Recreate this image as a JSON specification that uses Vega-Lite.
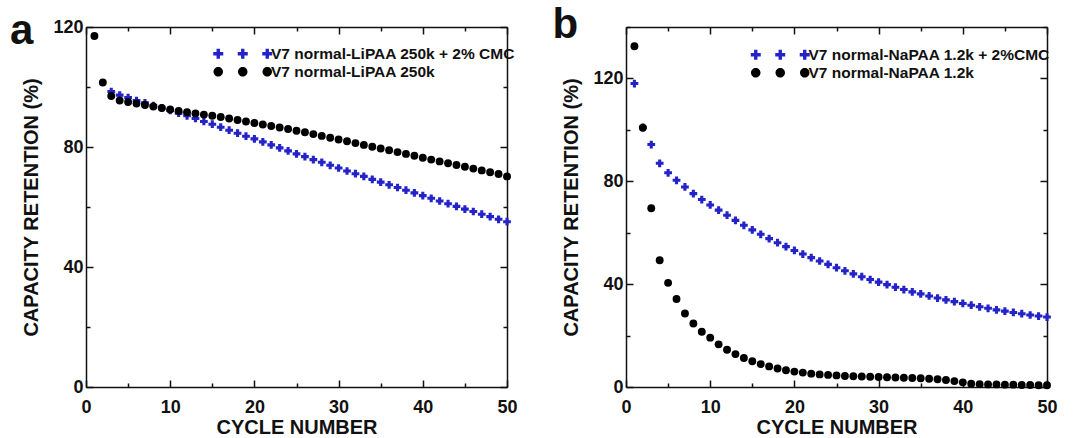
{
  "$schema": "https://vega.github.io/schema/vega-lite/v6.json",
  "autosize": {"type": "none"},
  "padding": {"left": 86, "top": 27, "right": 989, "bottom": 411},
  "bounds": "flush",
  "spacing": 119,
  "background": "white",
  "resolve": {"legend": {"color": "independent", "fill": "independent"}, "scale": {"color": "independent", "fill": "independent"}},
  "config": {
    "view": {"stroke": null},
    "font": "Liberation Sans",
    "axis": {
      "grid": false,
      "domainColor": "#111111",
      "domainWidth": 1.5,
      "tickColor": "#111111",
      "tickWidth": 1.5,
      "labelFont": "Liberation Sans",
      "labelFontSize": 18,
      "labelFontWeight": "bold",
      "labelColor": "#111111",
      "labelFlush": false,
      "labelOverlap": false,
      "titleFont": "Liberation Sans",
      "titleFontSize": 20,
      "titleFontWeight": "bold",
      "titleColor": "#111111"
    },
    "legend": {
      "labelFont": "Liberation Sans",
      "labelFontSize": 15.5,
      "labelFontWeight": "bold",
      "labelColor": "#111111",
      "labelLimit": 0,
      "symbolSize": 100,
      "symbolStrokeWidth": 0,
      "labelOffset": -4,
      "padding": 0,
      "orient": "none"
    }
  },
  "datasets": {
    "a": [
      {"cycle": 1, "ret": 117, "series": "V7 normal-LiPAA 250k"},
      {"cycle": 2, "ret": 101.5, "series": "V7 normal-LiPAA 250k"},
      {"cycle": 3, "ret": 97, "series": "V7 normal-LiPAA 250k"},
      {"cycle": 4, "ret": 95.5, "series": "V7 normal-LiPAA 250k"},
      {"cycle": 5, "ret": 95, "series": "V7 normal-LiPAA 250k"},
      {"cycle": 6, "ret": 94.5, "series": "V7 normal-LiPAA 250k"},
      {"cycle": 7, "ret": 94, "series": "V7 normal-LiPAA 250k"},
      {"cycle": 8, "ret": 93.5, "series": "V7 normal-LiPAA 250k"},
      {"cycle": 9, "ret": 93, "series": "V7 normal-LiPAA 250k"},
      {"cycle": 10, "ret": 92.5, "series": "V7 normal-LiPAA 250k"},
      {"cycle": 11, "ret": 92, "series": "V7 normal-LiPAA 250k"},
      {"cycle": 12, "ret": 91.6, "series": "V7 normal-LiPAA 250k"},
      {"cycle": 13, "ret": 91.2, "series": "V7 normal-LiPAA 250k"},
      {"cycle": 14, "ret": 90.8, "series": "V7 normal-LiPAA 250k"},
      {"cycle": 15, "ret": 90.4, "series": "V7 normal-LiPAA 250k"},
      {"cycle": 16, "ret": 90, "series": "V7 normal-LiPAA 250k"},
      {"cycle": 17, "ret": 89.5, "series": "V7 normal-LiPAA 250k"},
      {"cycle": 18, "ret": 89, "series": "V7 normal-LiPAA 250k"},
      {"cycle": 19, "ret": 88.5, "series": "V7 normal-LiPAA 250k"},
      {"cycle": 20, "ret": 88, "series": "V7 normal-LiPAA 250k"},
      {"cycle": 21, "ret": 87.5, "series": "V7 normal-LiPAA 250k"},
      {"cycle": 22, "ret": 87, "series": "V7 normal-LiPAA 250k"},
      {"cycle": 23, "ret": 86.5, "series": "V7 normal-LiPAA 250k"},
      {"cycle": 24, "ret": 86, "series": "V7 normal-LiPAA 250k"},
      {"cycle": 25, "ret": 85.4, "series": "V7 normal-LiPAA 250k"},
      {"cycle": 26, "ret": 84.9, "series": "V7 normal-LiPAA 250k"},
      {"cycle": 27, "ret": 84.3, "series": "V7 normal-LiPAA 250k"},
      {"cycle": 28, "ret": 83.7, "series": "V7 normal-LiPAA 250k"},
      {"cycle": 29, "ret": 83.1, "series": "V7 normal-LiPAA 250k"},
      {"cycle": 30, "ret": 82.5, "series": "V7 normal-LiPAA 250k"},
      {"cycle": 31, "ret": 81.9, "series": "V7 normal-LiPAA 250k"},
      {"cycle": 32, "ret": 81.3, "series": "V7 normal-LiPAA 250k"},
      {"cycle": 33, "ret": 80.7, "series": "V7 normal-LiPAA 250k"},
      {"cycle": 34, "ret": 80.1, "series": "V7 normal-LiPAA 250k"},
      {"cycle": 35, "ret": 79.5, "series": "V7 normal-LiPAA 250k"},
      {"cycle": 36, "ret": 78.9, "series": "V7 normal-LiPAA 250k"},
      {"cycle": 37, "ret": 78.3, "series": "V7 normal-LiPAA 250k"},
      {"cycle": 38, "ret": 77.7, "series": "V7 normal-LiPAA 250k"},
      {"cycle": 39, "ret": 77.1, "series": "V7 normal-LiPAA 250k"},
      {"cycle": 40, "ret": 76.4, "series": "V7 normal-LiPAA 250k"},
      {"cycle": 41, "ret": 75.8, "series": "V7 normal-LiPAA 250k"},
      {"cycle": 42, "ret": 75.2, "series": "V7 normal-LiPAA 250k"},
      {"cycle": 43, "ret": 74.6, "series": "V7 normal-LiPAA 250k"},
      {"cycle": 44, "ret": 74, "series": "V7 normal-LiPAA 250k"},
      {"cycle": 45, "ret": 73.4, "series": "V7 normal-LiPAA 250k"},
      {"cycle": 46, "ret": 72.8, "series": "V7 normal-LiPAA 250k"},
      {"cycle": 47, "ret": 72.2, "series": "V7 normal-LiPAA 250k"},
      {"cycle": 48, "ret": 71.6, "series": "V7 normal-LiPAA 250k"},
      {"cycle": 49, "ret": 71, "series": "V7 normal-LiPAA 250k"},
      {"cycle": 50, "ret": 70.2, "series": "V7 normal-LiPAA 250k"},
      {"cycle": 3, "ret": 98.5, "series": "V7 normal-LiPAA 250k + 2% CMC"},
      {"cycle": 4, "ret": 97.3, "series": "V7 normal-LiPAA 250k + 2% CMC"},
      {"cycle": 5, "ret": 96.5, "series": "V7 normal-LiPAA 250k + 2% CMC"},
      {"cycle": 6, "ret": 95.5, "series": "V7 normal-LiPAA 250k + 2% CMC"},
      {"cycle": 7, "ret": 94.7, "series": "V7 normal-LiPAA 250k + 2% CMC"},
      {"cycle": 8, "ret": 93.8, "series": "V7 normal-LiPAA 250k + 2% CMC"},
      {"cycle": 9, "ret": 93, "series": "V7 normal-LiPAA 250k + 2% CMC"},
      {"cycle": 10, "ret": 92.2, "series": "V7 normal-LiPAA 250k + 2% CMC"},
      {"cycle": 11, "ret": 91.3, "series": "V7 normal-LiPAA 250k + 2% CMC"},
      {"cycle": 12, "ret": 90.4, "series": "V7 normal-LiPAA 250k + 2% CMC"},
      {"cycle": 13, "ret": 89.5, "series": "V7 normal-LiPAA 250k + 2% CMC"},
      {"cycle": 14, "ret": 88.5, "series": "V7 normal-LiPAA 250k + 2% CMC"},
      {"cycle": 15, "ret": 87.6, "series": "V7 normal-LiPAA 250k + 2% CMC"},
      {"cycle": 16, "ret": 86.6, "series": "V7 normal-LiPAA 250k + 2% CMC"},
      {"cycle": 17, "ret": 85.6, "series": "V7 normal-LiPAA 250k + 2% CMC"},
      {"cycle": 18, "ret": 84.6, "series": "V7 normal-LiPAA 250k + 2% CMC"},
      {"cycle": 19, "ret": 83.6, "series": "V7 normal-LiPAA 250k + 2% CMC"},
      {"cycle": 20, "ret": 82.7, "series": "V7 normal-LiPAA 250k + 2% CMC"},
      {"cycle": 21, "ret": 81.7, "series": "V7 normal-LiPAA 250k + 2% CMC"},
      {"cycle": 22, "ret": 80.7, "series": "V7 normal-LiPAA 250k + 2% CMC"},
      {"cycle": 23, "ret": 79.7, "series": "V7 normal-LiPAA 250k + 2% CMC"},
      {"cycle": 24, "ret": 78.7, "series": "V7 normal-LiPAA 250k + 2% CMC"},
      {"cycle": 25, "ret": 77.7, "series": "V7 normal-LiPAA 250k + 2% CMC"},
      {"cycle": 26, "ret": 76.8, "series": "V7 normal-LiPAA 250k + 2% CMC"},
      {"cycle": 27, "ret": 75.8, "series": "V7 normal-LiPAA 250k + 2% CMC"},
      {"cycle": 28, "ret": 74.9, "series": "V7 normal-LiPAA 250k + 2% CMC"},
      {"cycle": 29, "ret": 73.9, "series": "V7 normal-LiPAA 250k + 2% CMC"},
      {"cycle": 30, "ret": 73, "series": "V7 normal-LiPAA 250k + 2% CMC"},
      {"cycle": 31, "ret": 72, "series": "V7 normal-LiPAA 250k + 2% CMC"},
      {"cycle": 32, "ret": 71.1, "series": "V7 normal-LiPAA 250k + 2% CMC"},
      {"cycle": 33, "ret": 70.2, "series": "V7 normal-LiPAA 250k + 2% CMC"},
      {"cycle": 34, "ret": 69.2, "series": "V7 normal-LiPAA 250k + 2% CMC"},
      {"cycle": 35, "ret": 68.3, "series": "V7 normal-LiPAA 250k + 2% CMC"},
      {"cycle": 36, "ret": 67.4, "series": "V7 normal-LiPAA 250k + 2% CMC"},
      {"cycle": 37, "ret": 66.5, "series": "V7 normal-LiPAA 250k + 2% CMC"},
      {"cycle": 38, "ret": 65.6, "series": "V7 normal-LiPAA 250k + 2% CMC"},
      {"cycle": 39, "ret": 64.7, "series": "V7 normal-LiPAA 250k + 2% CMC"},
      {"cycle": 40, "ret": 63.8, "series": "V7 normal-LiPAA 250k + 2% CMC"},
      {"cycle": 41, "ret": 62.9, "series": "V7 normal-LiPAA 250k + 2% CMC"},
      {"cycle": 42, "ret": 62, "series": "V7 normal-LiPAA 250k + 2% CMC"},
      {"cycle": 43, "ret": 61.1, "series": "V7 normal-LiPAA 250k + 2% CMC"},
      {"cycle": 44, "ret": 60.2, "series": "V7 normal-LiPAA 250k + 2% CMC"},
      {"cycle": 45, "ret": 59.3, "series": "V7 normal-LiPAA 250k + 2% CMC"},
      {"cycle": 46, "ret": 58.5, "series": "V7 normal-LiPAA 250k + 2% CMC"},
      {"cycle": 47, "ret": 57.6, "series": "V7 normal-LiPAA 250k + 2% CMC"},
      {"cycle": 48, "ret": 56.8, "series": "V7 normal-LiPAA 250k + 2% CMC"},
      {"cycle": 49, "ret": 55.9, "series": "V7 normal-LiPAA 250k + 2% CMC"},
      {"cycle": 50, "ret": 55.1, "series": "V7 normal-LiPAA 250k + 2% CMC"}
    ],
    "b": [
      {"cycle": 1, "ret": 132.5, "series": "V7 normal-NaPAA 1.2k"},
      {"cycle": 2, "ret": 100.8, "series": "V7 normal-NaPAA 1.2k"},
      {"cycle": 3, "ret": 69.5, "series": "V7 normal-NaPAA 1.2k"},
      {"cycle": 4, "ret": 49.3, "series": "V7 normal-NaPAA 1.2k"},
      {"cycle": 5, "ret": 40.5, "series": "V7 normal-NaPAA 1.2k"},
      {"cycle": 6, "ret": 34.2, "series": "V7 normal-NaPAA 1.2k"},
      {"cycle": 7, "ret": 28.6, "series": "V7 normal-NaPAA 1.2k"},
      {"cycle": 8, "ret": 24.7, "series": "V7 normal-NaPAA 1.2k"},
      {"cycle": 9, "ret": 21.5, "series": "V7 normal-NaPAA 1.2k"},
      {"cycle": 10, "ret": 19.2, "series": "V7 normal-NaPAA 1.2k"},
      {"cycle": 11, "ret": 16.6, "series": "V7 normal-NaPAA 1.2k"},
      {"cycle": 12, "ret": 14.5, "series": "V7 normal-NaPAA 1.2k"},
      {"cycle": 13, "ret": 12.8, "series": "V7 normal-NaPAA 1.2k"},
      {"cycle": 14, "ret": 11.3, "series": "V7 normal-NaPAA 1.2k"},
      {"cycle": 15, "ret": 10, "series": "V7 normal-NaPAA 1.2k"},
      {"cycle": 16, "ret": 8.9, "series": "V7 normal-NaPAA 1.2k"},
      {"cycle": 17, "ret": 8, "series": "V7 normal-NaPAA 1.2k"},
      {"cycle": 18, "ret": 7.2, "series": "V7 normal-NaPAA 1.2k"},
      {"cycle": 19, "ret": 6.5, "series": "V7 normal-NaPAA 1.2k"},
      {"cycle": 20, "ret": 6, "series": "V7 normal-NaPAA 1.2k"},
      {"cycle": 21, "ret": 5.6, "series": "V7 normal-NaPAA 1.2k"},
      {"cycle": 22, "ret": 5.2, "series": "V7 normal-NaPAA 1.2k"},
      {"cycle": 23, "ret": 4.9, "series": "V7 normal-NaPAA 1.2k"},
      {"cycle": 24, "ret": 4.7, "series": "V7 normal-NaPAA 1.2k"},
      {"cycle": 25, "ret": 4.5, "series": "V7 normal-NaPAA 1.2k"},
      {"cycle": 26, "ret": 4.3, "series": "V7 normal-NaPAA 1.2k"},
      {"cycle": 27, "ret": 4.2, "series": "V7 normal-NaPAA 1.2k"},
      {"cycle": 28, "ret": 4.1, "series": "V7 normal-NaPAA 1.2k"},
      {"cycle": 29, "ret": 4, "series": "V7 normal-NaPAA 1.2k"},
      {"cycle": 30, "ret": 3.9, "series": "V7 normal-NaPAA 1.2k"},
      {"cycle": 31, "ret": 3.8, "series": "V7 normal-NaPAA 1.2k"},
      {"cycle": 32, "ret": 3.7, "series": "V7 normal-NaPAA 1.2k"},
      {"cycle": 33, "ret": 3.6, "series": "V7 normal-NaPAA 1.2k"},
      {"cycle": 34, "ret": 3.5, "series": "V7 normal-NaPAA 1.2k"},
      {"cycle": 35, "ret": 3.4, "series": "V7 normal-NaPAA 1.2k"},
      {"cycle": 36, "ret": 3.2, "series": "V7 normal-NaPAA 1.2k"},
      {"cycle": 37, "ret": 3, "series": "V7 normal-NaPAA 1.2k"},
      {"cycle": 38, "ret": 2.7, "series": "V7 normal-NaPAA 1.2k"},
      {"cycle": 39, "ret": 2.3, "series": "V7 normal-NaPAA 1.2k"},
      {"cycle": 40, "ret": 1.8, "series": "V7 normal-NaPAA 1.2k"},
      {"cycle": 41, "ret": 1.3, "series": "V7 normal-NaPAA 1.2k"},
      {"cycle": 42, "ret": 1.1, "series": "V7 normal-NaPAA 1.2k"},
      {"cycle": 43, "ret": 1, "series": "V7 normal-NaPAA 1.2k"},
      {"cycle": 44, "ret": 1, "series": "V7 normal-NaPAA 1.2k"},
      {"cycle": 45, "ret": 0.9, "series": "V7 normal-NaPAA 1.2k"},
      {"cycle": 46, "ret": 0.9, "series": "V7 normal-NaPAA 1.2k"},
      {"cycle": 47, "ret": 0.8, "series": "V7 normal-NaPAA 1.2k"},
      {"cycle": 48, "ret": 0.8, "series": "V7 normal-NaPAA 1.2k"},
      {"cycle": 49, "ret": 0.7, "series": "V7 normal-NaPAA 1.2k"},
      {"cycle": 50, "ret": 0.7, "series": "V7 normal-NaPAA 1.2k"},
      {"cycle": 1, "ret": 118, "series": "V7 normal-NaPAA 1.2k + 2%CMC"},
      {"cycle": 2, "ret": 101, "series": "V7 normal-NaPAA 1.2k + 2%CMC"},
      {"cycle": 3, "ret": 94.3, "series": "V7 normal-NaPAA 1.2k + 2%CMC"},
      {"cycle": 4, "ret": 87, "series": "V7 normal-NaPAA 1.2k + 2%CMC"},
      {"cycle": 5, "ret": 83.3, "series": "V7 normal-NaPAA 1.2k + 2%CMC"},
      {"cycle": 6, "ret": 80.4, "series": "V7 normal-NaPAA 1.2k + 2%CMC"},
      {"cycle": 7, "ret": 77.8, "series": "V7 normal-NaPAA 1.2k + 2%CMC"},
      {"cycle": 8, "ret": 75.2, "series": "V7 normal-NaPAA 1.2k + 2%CMC"},
      {"cycle": 9, "ret": 72.9, "series": "V7 normal-NaPAA 1.2k + 2%CMC"},
      {"cycle": 10, "ret": 70.8, "series": "V7 normal-NaPAA 1.2k + 2%CMC"},
      {"cycle": 11, "ret": 68.8, "series": "V7 normal-NaPAA 1.2k + 2%CMC"},
      {"cycle": 12, "ret": 66.8, "series": "V7 normal-NaPAA 1.2k + 2%CMC"},
      {"cycle": 13, "ret": 64.8, "series": "V7 normal-NaPAA 1.2k + 2%CMC"},
      {"cycle": 14, "ret": 62.9, "series": "V7 normal-NaPAA 1.2k + 2%CMC"},
      {"cycle": 15, "ret": 61.1, "series": "V7 normal-NaPAA 1.2k + 2%CMC"},
      {"cycle": 16, "ret": 59.4, "series": "V7 normal-NaPAA 1.2k + 2%CMC"},
      {"cycle": 17, "ret": 57.7, "series": "V7 normal-NaPAA 1.2k + 2%CMC"},
      {"cycle": 18, "ret": 56.1, "series": "V7 normal-NaPAA 1.2k + 2%CMC"},
      {"cycle": 19, "ret": 54.6, "series": "V7 normal-NaPAA 1.2k + 2%CMC"},
      {"cycle": 20, "ret": 53.1, "series": "V7 normal-NaPAA 1.2k + 2%CMC"},
      {"cycle": 21, "ret": 51.7, "series": "V7 normal-NaPAA 1.2k + 2%CMC"},
      {"cycle": 22, "ret": 50.3, "series": "V7 normal-NaPAA 1.2k + 2%CMC"},
      {"cycle": 23, "ret": 49, "series": "V7 normal-NaPAA 1.2k + 2%CMC"},
      {"cycle": 24, "ret": 47.7, "series": "V7 normal-NaPAA 1.2k + 2%CMC"},
      {"cycle": 25, "ret": 46.4, "series": "V7 normal-NaPAA 1.2k + 2%CMC"},
      {"cycle": 26, "ret": 45.2, "series": "V7 normal-NaPAA 1.2k + 2%CMC"},
      {"cycle": 27, "ret": 44, "series": "V7 normal-NaPAA 1.2k + 2%CMC"},
      {"cycle": 28, "ret": 42.9, "series": "V7 normal-NaPAA 1.2k + 2%CMC"},
      {"cycle": 29, "ret": 41.8, "series": "V7 normal-NaPAA 1.2k + 2%CMC"},
      {"cycle": 30, "ret": 40.8, "series": "V7 normal-NaPAA 1.2k + 2%CMC"},
      {"cycle": 31, "ret": 39.8, "series": "V7 normal-NaPAA 1.2k + 2%CMC"},
      {"cycle": 32, "ret": 38.8, "series": "V7 normal-NaPAA 1.2k + 2%CMC"},
      {"cycle": 33, "ret": 37.9, "series": "V7 normal-NaPAA 1.2k + 2%CMC"},
      {"cycle": 34, "ret": 37, "series": "V7 normal-NaPAA 1.2k + 2%CMC"},
      {"cycle": 35, "ret": 36.2, "series": "V7 normal-NaPAA 1.2k + 2%CMC"},
      {"cycle": 36, "ret": 35.4, "series": "V7 normal-NaPAA 1.2k + 2%CMC"},
      {"cycle": 37, "ret": 34.6, "series": "V7 normal-NaPAA 1.2k + 2%CMC"},
      {"cycle": 38, "ret": 33.9, "series": "V7 normal-NaPAA 1.2k + 2%CMC"},
      {"cycle": 39, "ret": 33.2, "series": "V7 normal-NaPAA 1.2k + 2%CMC"},
      {"cycle": 40, "ret": 32.5, "series": "V7 normal-NaPAA 1.2k + 2%CMC"},
      {"cycle": 41, "ret": 31.8, "series": "V7 normal-NaPAA 1.2k + 2%CMC"},
      {"cycle": 42, "ret": 31.2, "series": "V7 normal-NaPAA 1.2k + 2%CMC"},
      {"cycle": 43, "ret": 30.6, "series": "V7 normal-NaPAA 1.2k + 2%CMC"},
      {"cycle": 44, "ret": 30, "series": "V7 normal-NaPAA 1.2k + 2%CMC"},
      {"cycle": 45, "ret": 29.5, "series": "V7 normal-NaPAA 1.2k + 2%CMC"},
      {"cycle": 46, "ret": 29, "series": "V7 normal-NaPAA 1.2k + 2%CMC"},
      {"cycle": 47, "ret": 28.5, "series": "V7 normal-NaPAA 1.2k + 2%CMC"},
      {"cycle": 48, "ret": 28, "series": "V7 normal-NaPAA 1.2k + 2%CMC"},
      {"cycle": 49, "ret": 27.6, "series": "V7 normal-NaPAA 1.2k + 2%CMC"},
      {"cycle": 50, "ret": 27.2, "series": "V7 normal-NaPAA 1.2k + 2%CMC"}
    ]
  },
  "hconcat": [
    {
      "width": 421,
      "height": 360,
      "title": {"text": "a", "anchor": "start", "frame": "group", "orient": "top", "offset": -28, "dx": -76, "dy": 40, "fontSize": 42, "fontWeight": "bold", "font": "Liberation Sans", "baseline": "alphabetic", "color": "#111111"},
      "data": {"name": "a"},
      "layer": [
        {
          "transform": [{"filter": {"field": "series", "equal": "V7 normal-LiPAA 250k + 2% CMC"}}],
          "mark": {"type": "point", "shape": "cross", "filled": true, "opacity": 1, "size": 60, "strokeWidth": 0},
          "encoding": {
            "x": {"field": "cycle", "type": "quantitative", "scale": {"domain": [0, 50], "nice": false},
              "axis": {"orient": "bottom", "values": [0, 5, 10, 15, 20, 25, 30, 35, 40, 45, 50], "labelExpr": "datum.value % 10 === 0 ? datum.label : ''", "tickSize": {"condition": {"test": "datum.value % 10 === 0", "value": -7}, "value": -4}, "labelPadding": 18, "title": "CYCLE NUMBER", "titlePadding": -2}},
            "y": {"field": "ret", "type": "quantitative", "scale": {"domain": [0, 120], "nice": false},
              "axis": {"orient": "left", "values": [0, 20, 40, 60, 80, 100, 120], "labelExpr": "datum.value % 40 === 0 ? datum.label : ''", "tickSize": {"condition": {"test": "datum.value % 40 === 0", "value": -7}, "value": -4}, "labelPadding": 10, "title": "CAPACITY RETENTION (%)", "titlePadding": 11}},
            "fill": {"field": "series", "type": "nominal",
              "scale": {"domain": ["V7 normal-LiPAA 250k + 2% CMC"], "range": ["#2323c8"]},
              "legend": {"title": null, "orient": "none", "legendX": 173.5, "legendY": 19,
                "symbolType": "M-10.8,-0.34H-10.14V-1H-9.46V-0.34H-8.8V0.34H-9.46V1H-10.14V0.34H-10.8ZM-5.9,-0.34H-5.24V-1H-4.56V-0.34H-3.9V0.34H-4.56V1H-5.24V0.34H-5.9ZM-1,-0.34H-0.34V-1H0.34V-0.34H1V0.34H0.34V1H-0.34V0.34H-1Z"}}
          }
        },
        {
          "transform": [{"filter": {"field": "series", "equal": "V7 normal-LiPAA 250k"}}],
          "mark": {"type": "point", "shape": "circle", "filled": true, "opacity": 1, "size": 62, "strokeWidth": 0},
          "encoding": {
            "x": {"field": "cycle", "type": "quantitative", "scale": {"domain": [0, 50], "nice": false},
              "axis": {"orient": "top", "values": [0, 5, 10, 15, 20, 25, 30, 35, 40, 45, 50], "labels": false, "title": null, "tickSize": {"condition": {"test": "datum.value % 10 === 0", "value": -7}, "value": -4}}},
            "y": {"field": "ret", "type": "quantitative", "scale": {"domain": [0, 120], "nice": false},
              "axis": {"orient": "right", "values": [0, 20, 40, 60, 80, 100, 120], "labels": false, "title": null, "tickSize": {"condition": {"test": "datum.value % 40 === 0", "value": -7}, "value": -4}}},
            "color": {"field": "series", "type": "nominal",
              "scale": {"domain": ["V7 normal-LiPAA 250k"], "range": ["#000000"]},
              "legend": {"title": null, "orient": "none", "legendX": 173.5, "legendY": 37,
                "symbolType": "M-8.85,0C-8.85,0.525 -9.275,0.95 -9.8,0.95C-10.325,0.95 -10.75,0.525 -10.75,0C-10.75,-0.525 -10.325,-0.95 -9.8,-0.95C-9.275,-0.95 -8.85,-0.525 -8.85,0ZM-3.95,0C-3.95,0.525 -4.375,0.95 -4.9,0.95C-5.425,0.95 -5.85,0.525 -5.85,0C-5.85,-0.525 -5.425,-0.95 -4.9,-0.95C-4.375,-0.95 -3.95,-0.525 -3.95,0ZM0.95,0C0.95,0.525 0.525,0.95 0,0.95C-0.525,0.95 -0.95,0.525 -0.95,0C-0.95,-0.525 -0.525,-0.95 0,-0.95C0.525,-0.95 0.95,-0.525 0.95,0Z"}}
          }
        }
      ],
      "resolve": {"axis": {"x": "independent", "y": "independent"}}
    },
    {
      "width": 421,
      "height": 360,
      "title": {"text": "b", "anchor": "start", "frame": "group", "orient": "top", "offset": -26, "dx": -73.5, "dy": 36, "fontSize": 42, "fontWeight": "bold", "font": "Liberation Sans", "baseline": "alphabetic", "color": "#111111"},
      "data": {"name": "b"},
      "layer": [
        {
          "transform": [{"filter": {"field": "series", "equal": "V7 normal-NaPAA 1.2k + 2%CMC"}}],
          "mark": {"type": "point", "shape": "cross", "filled": true, "opacity": 1, "size": 60, "strokeWidth": 0},
          "encoding": {
            "x": {"field": "cycle", "type": "quantitative", "scale": {"domain": [0, 50], "nice": false},
              "axis": {"orient": "bottom", "values": [0, 5, 10, 15, 20, 25, 30, 35, 40, 45, 50], "labelExpr": "datum.value % 10 === 0 ? datum.label : ''", "tickSize": {"condition": {"test": "datum.value % 10 === 0", "value": -7}, "value": -4}, "labelPadding": 18, "title": "CYCLE NUMBER", "titlePadding": -2}},
            "y": {"field": "ret", "type": "quantitative", "scale": {"domain": [0, 140], "nice": false},
              "axis": {"orient": "left", "values": [0, 20, 40, 60, 80, 100, 120, 140], "labelExpr": "datum.value % 40 === 0 ? datum.label : ''", "tickSize": {"condition": {"test": "datum.value % 40 === 0", "value": -7}, "value": -4}, "labelPadding": 10, "title": "CAPACITY RETENTION (%)", "titlePadding": 11}},
            "fill": {"field": "series", "type": "nominal",
              "scale": {"domain": ["V7 normal-NaPAA 1.2k + 2%CMC"], "range": ["#2323c8"]},
              "legend": {"title": null, "orient": "none", "legendX": 171, "legendY": 20,
                "symbolType": "M-10.8,-0.34H-10.14V-1H-9.46V-0.34H-8.8V0.34H-9.46V1H-10.14V0.34H-10.8ZM-5.9,-0.34H-5.24V-1H-4.56V-0.34H-3.9V0.34H-4.56V1H-5.24V0.34H-5.9ZM-1,-0.34H-0.34V-1H0.34V-0.34H1V0.34H0.34V1H-0.34V0.34H-1Z"}}
          }
        },
        {
          "transform": [{"filter": {"field": "series", "equal": "V7 normal-NaPAA 1.2k"}}],
          "mark": {"type": "point", "shape": "circle", "filled": true, "opacity": 1, "size": 62, "strokeWidth": 0},
          "encoding": {
            "x": {"field": "cycle", "type": "quantitative", "scale": {"domain": [0, 50], "nice": false},
              "axis": {"orient": "top", "values": [0, 5, 10, 15, 20, 25, 30, 35, 40, 45, 50], "labels": false, "title": null, "tickSize": {"condition": {"test": "datum.value % 10 === 0", "value": -7}, "value": -4}}},
            "y": {"field": "ret", "type": "quantitative", "scale": {"domain": [0, 140], "nice": false},
              "axis": {"orient": "right", "values": [0, 20, 40, 60, 80, 100, 120, 140], "labels": false, "title": null, "tickSize": {"condition": {"test": "datum.value % 40 === 0", "value": -7}, "value": -4}}},
            "color": {"field": "series", "type": "nominal",
              "scale": {"domain": ["V7 normal-NaPAA 1.2k"], "range": ["#000000"]},
              "legend": {"title": null, "orient": "none", "legendX": 171, "legendY": 38,
                "symbolType": "M-8.85,0C-8.85,0.525 -9.275,0.95 -9.8,0.95C-10.325,0.95 -10.75,0.525 -10.75,0C-10.75,-0.525 -10.325,-0.95 -9.8,-0.95C-9.275,-0.95 -8.85,-0.525 -8.85,0ZM-3.95,0C-3.95,0.525 -4.375,0.95 -4.9,0.95C-5.425,0.95 -5.85,0.525 -5.85,0C-5.85,-0.525 -5.425,-0.95 -4.9,-0.95C-4.375,-0.95 -3.95,-0.525 -3.95,0ZM0.95,0C0.95,0.525 0.525,0.95 0,0.95C-0.525,0.95 -0.95,0.525 -0.95,0C-0.95,-0.525 -0.525,-0.95 0,-0.95C0.525,-0.95 0.95,-0.525 0.95,0Z"}}
          }
        }
      ],
      "resolve": {"axis": {"x": "independent", "y": "independent"}}
    }
  ]
}
